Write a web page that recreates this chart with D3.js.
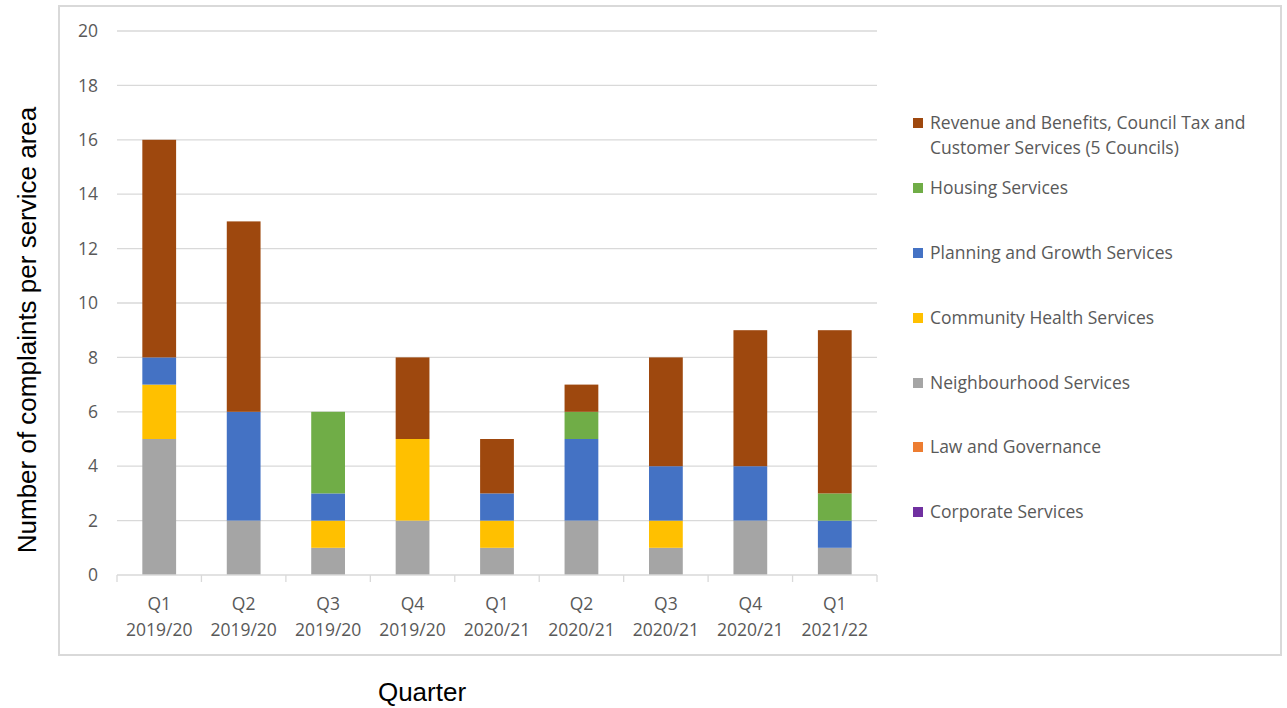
<!DOCTYPE html>
<html>
<head>
<meta charset="utf-8">
<script src="https://cdn.jsdelivr.net/npm/d3@7"></script>
<style>
  body { margin: 0; background: #fff; }
  text { font-family: "Open Sans", "Noto Sans", sans-serif; }
</style>
</head>
<body>
<div id="chart"></div>
<script>
const width = 1287;
const height = 708;

// chart data
const quarters = ["Q1\n2019/20", "Q2\n2019/20", "Q3\n2019/20", "Q4\n2019/20", "Q1\n2020/21",
                  "Q2\n2020/21", "Q3\n2020/21", "Q4\n2020/21", "Q1\n2021/22"];
const corporate     = [0, 0, 0, 0, 0, 0, 0, 0, 0];
const law           = [0, 0, 0, 0, 0, 0, 0, 0, 0];
const neighbourhood = [5, 2, 1, 2, 1, 2, 1, 2, 1];
const community     = [2, 0, 1, 3, 1, 0, 1, 0, 0];
const planning      = [1, 4, 1, 0, 1, 3, 2, 2, 1];
const housing       = [0, 0, 3, 0, 0, 1, 0, 0, 1];
const revenue       = [8, 7, 0, 3, 2, 1, 4, 5, 6];
const yTicks = [0, 2, 4, 6, 8, 10, 12, 14, 16, 18, 20];

const series = [
  { key: "corporate", name: "Corporate Services", color: "#7030A0", values: corporate },
  { key: "law", name: "Law and Governance", color: "#ED7D31", values: law },
  { key: "neighbourhood", name: "Neighbourhood Services", color: "#A5A5A5", values: neighbourhood },
  { key: "community", name: "Community Health Services", color: "#FFC000", values: community },
  { key: "planning", name: "Planning and Growth Services", color: "#4472C4", values: planning },
  { key: "housing", name: "Housing Services", color: "#70AD47", values: housing },
  { key: "revenue", name: "Revenue and Benefits, Council Tax and\nCustomer Services (5 Councils)", color: "#9E480E", values: revenue }
];

const svg = d3.select("#chart").append("svg")
  .attr("width", width)
  .attr("height", height);

// outer frame
svg.append("rect")
  .attr("x", 59).attr("y", 6)
  .attr("width", 1222).attr("height", 649)
  .attr("fill", "none")
  .attr("stroke", "#d9d9d9")
  .attr("stroke-width", 2);

const plot = { left: 117, right: 877, top: 31, bottom: 575 };

const x = d3.scaleBand()
  .domain(quarters)
  .range([plot.left, plot.right])
  .paddingInner(0.6)
  .paddingOuter(0.3);

const y = d3.scaleLinear()
  .domain([0, 20])
  .range([plot.bottom, plot.top]);

// gridlines
svg.append("g")
  .selectAll("line")
  .data(yTicks.filter(d => d > 0))
  .join("line")
  .attr("x1", plot.left).attr("x2", plot.right)
  .attr("y1", d => y(d)).attr("y2", d => y(d))
  .attr("stroke", "#d9d9d9")
  .attr("stroke-width", 1.3);

// y tick labels
svg.append("g")
  .selectAll("text")
  .data(yTicks)
  .join("text")
  .attr("x", 98)
  .attr("y", d => y(d))
  .attr("dy", "0.35em")
  .attr("text-anchor", "end")
  .attr("font-size", 17.5)
  .attr("fill", "#595959")
  .text(d => d);

// stacked bars
const table = quarters.map((q, i) => {
  const row = { quarter: q };
  series.forEach(s => { row[s.key] = s.values[i]; });
  return row;
});
const stacked = d3.stack().keys(series.map(s => s.key))(table);

svg.append("g")
  .selectAll("g")
  .data(stacked)
  .join("g")
  .attr("fill", (d, i) => series[i].color)
  .selectAll("rect")
  .data(d => d)
  .join("rect")
  .attr("x", d => x(d.data.quarter))
  .attr("width", x.bandwidth())
  .attr("y", d => y(d[1]))
  .attr("height", d => y(d[0]) - y(d[1]));

// x axis line and ticks at category boundaries
const step = x.step();
svg.append("line")
  .attr("x1", plot.left).attr("x2", plot.right)
  .attr("y1", plot.bottom).attr("y2", plot.bottom)
  .attr("stroke", "#d9d9d9")
  .attr("stroke-width", 1.3);

svg.append("g")
  .selectAll("line")
  .data(d3.range(quarters.length + 1))
  .join("line")
  .attr("x1", i => plot.left + i * step)
  .attr("x2", i => plot.left + i * step)
  .attr("y1", plot.bottom)
  .attr("y2", plot.bottom + 7)
  .attr("stroke", "#d9d9d9")
  .attr("stroke-width", 1.3);

// x tick labels
const xLabels = svg.append("g")
  .selectAll("text")
  .data(quarters)
  .join("text")
  .attr("x", d => x(d) + x.bandwidth() / 2)
  .attr("y", 610)
  .attr("text-anchor", "middle")
  .attr("font-size", 17.5)
  .attr("fill", "#595959");
xLabels.selectAll("tspan")
  .data(d => d.split("\n"))
  .join("tspan")
  .attr("x", function() { return d3.select(this.parentNode).attr("x"); })
  .attr("dy", (d, i) => i === 0 ? 0 : 26)
  .text(d => d);

// axis titles
svg.append("text")
  .attr("transform", "translate(36," + 330 + ") rotate(-90)")
  .attr("text-anchor", "middle")
  .attr("font-size", 26)
  .attr("fill", "#000")
  .style("font-family", "Liberation Sans, Arial, sans-serif")
  .text("Number of complaints per service area");

svg.append("text")
  .attr("x", 422)
  .attr("y", 701)
  .attr("text-anchor", "middle")
  .attr("font-size", 26)
  .attr("fill", "#000")
  .style("font-family", "Liberation Sans, Arial, sans-serif")
  .text("Quarter");

// legend, reversed so revenue is on top
const legendItems = series.slice().reverse();
const legendY = [123, 188, 253, 318, 383, 447, 512];
const legend = svg.append("g")
  .selectAll("g")
  .data(legendItems)
  .join("g")
  .attr("transform", (d, i) => "translate(913," + legendY[i] + ")");

legend.append("rect")
  .attr("x", 0).attr("y", -5)
  .attr("width", 10).attr("height", 10)
  .attr("fill", d => d.color);

legend.append("text")
  .attr("x", 17)
  .attr("y", 0)
  .attr("font-size", 17.5)
  .attr("fill", "#595959")
  .selectAll("tspan")
  .data(d => d.name.split("\n"))
  .join("tspan")
  .attr("x", 17)
  .attr("dy", (d, i) => i === 0 ? "0.35em" : 25)
  .text(d => d);
</script>
</body>
</html>
